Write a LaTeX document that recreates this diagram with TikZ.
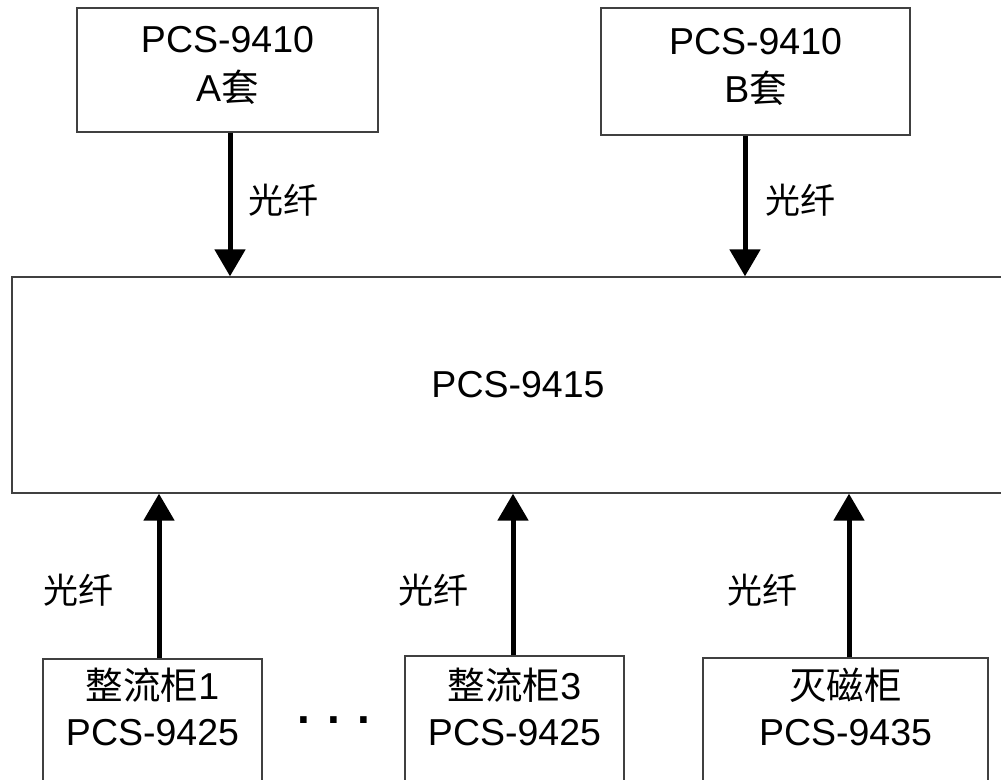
\documentclass[tikz,border=0pt]{standalone}
\usepackage{fontspec}
\setmainfont{Liberation Sans}
\newfontfamily\cjk{Noto Sans CJK SC}
\usetikzlibrary{arrows.meta}
\begin{document}
\begin{tikzpicture}[x=1pt,y=1pt,
 box/.style={draw=black!75, line width=1.3pt, rectangle, inner sep=0pt},
 arr/.style={line width=5pt, -{Triangle[length=27pt,width=30pt]}},
 txt/.style={font=\fontsize{37.5}{37.5}\selectfont, anchor=base, inner sep=0pt},
 lbl/.style={font=\fontsize{35}{35}\selectfont\cjk, anchor=base, inner sep=0pt}]
\useasboundingbox (0,0) rectangle (1001,779);
\clip (0,0) rectangle (1001,779);
% boxes
\node[box, minimum width=301pt, minimum height=124pt] (boxA) at (227.5,709) {};
\node[box, minimum width=309pt, minimum height=127pt] (boxB) at (755.5,707.5) {};
\node[box, minimum width=1003pt, minimum height=216pt] (big) at (513.5,394) {};
\node[box, minimum width=219pt, minimum height=161pt] (b1) at (152.5,39.5) {};
\node[box, minimum width=219pt, minimum height=164pt] (b3) at (514.5,41) {};
\node[box, minimum width=285pt, minimum height=162pt] (b5) at (845.5,40) {};
% texts
\node[txt] (tA1) at (227.5,726) {PCS-9410};
\node[txt] (tA2) at (227.5,677) {A{\cjk 套}};
\node[txt] (tB1) at (755.5,724) {PCS-9410};
\node[txt] (tB2) at (755.5,676) {B{\cjk 套}};
\node[txt] (tC) at (518,381) {PCS-9415};
\node[txt] (t11) at (152.5,79) {{\cjk 整流柜}1};
\node[txt] (t12) at (152.5,34) {PCS-9425};
\node[txt] (t31) at (514.5,79) {{\cjk 整流柜}3};
\node[txt] (t32) at (514.5,34) {PCS-9425};
\node[txt] (t51) at (845.5,79) {{\cjk 灭磁柜}};
\node[txt] (t52) at (845.5,34) {PCS-9435};
\node[anchor=base, inner sep=0pt, font=\fontsize{46}{46}\selectfont\bfseries] (dots) at (334,56) {. . .};
% labels
\node[lbl] (lA) at (283,565) {光纤};
\node[lbl] (lB) at (800,565) {光纤};
\node[lbl] (l1) at (78,175) {光纤};
\node[lbl] (l3) at (433,175) {光纤};
\node[lbl] (l5) at (762,175) {光纤};
% arrows
\draw[arr] ([xshift=2.5pt]boxA.south) -- ([xshift=2.5pt]boxA.south |- big.north);
\draw[arr] ([xshift=-10.5pt]boxB.south) -- ([xshift=-10.5pt]boxB.south |- big.north);
\draw[arr] ([xshift=6.5pt]b1.north) -- ([xshift=6.5pt]b1.north |- big.south);
\draw[arr] ([xshift=-1.5pt]b3.north) -- ([xshift=-1.5pt]b3.north |- big.south);
\draw[arr] ([xshift=3.5pt]b5.north) -- ([xshift=3.5pt]b5.north |- big.south);
\end{tikzpicture}
\end{document}
